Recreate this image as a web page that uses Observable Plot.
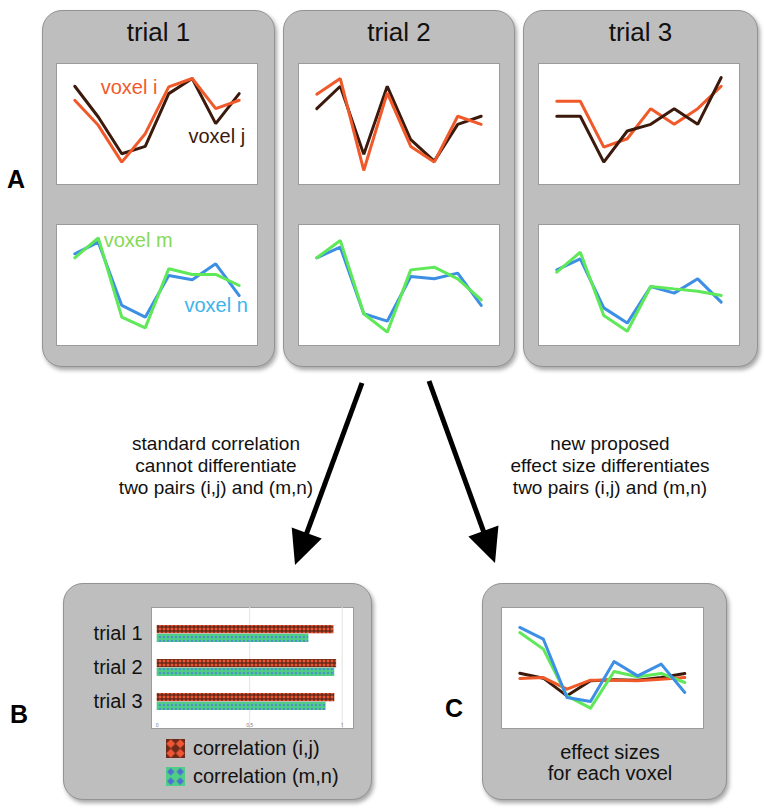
<!DOCTYPE html>
<html>
<head>
<meta charset="utf-8">
<script src="https://cdn.jsdelivr.net/npm/d3@7"></script>
<script src="https://cdn.jsdelivr.net/npm/@observablehq/plot@0.6"></script>
<style>
  html, body { margin: 0; padding: 0; background: #fff; }
  body { font-family: "Liberation Sans", Arial, sans-serif; }
  #fig { position: relative; width: 764px; height: 810px; overflow: hidden; }
  .panel { position: absolute; background: #bebebe; border: 1px solid #939393;
           border-radius: 20px; box-shadow: 2px 3px 4px rgba(0,0,0,0.35); box-sizing: border-box; }
  .abs { position: absolute; }
  .title { position: absolute; font-size: 26px; color: #111; text-align: center; white-space: nowrap; }
  .letter { position: absolute; font-size: 25px; font-weight: bold; color: #000; }
  .note { position: absolute; font-size: 19px; line-height: 22px; color: #111; text-align: center; white-space: nowrap; }
  .legend { position: absolute; font-size: 20px; color: #111; display: flex; align-items: center; gap: 8px; white-space: nowrap; }
</style>
</head>
<body>
<svg width="0" height="0" style="position:absolute">
  <defs>
    <pattern id="pat-ij" patternUnits="userSpaceOnUse" width="4" height="4">
      <rect width="4" height="4" fill="#6b2a18"></rect>
      <polygon points="2,0.2 3.8,2 2,3.8 0.2,2" fill="#ee5636"></polygon>
    </pattern>
    <pattern id="pat-mn" patternUnits="userSpaceOnUse" width="4" height="4">
      <rect width="4" height="4" fill="#4fcf84"></rect>
      <polygon points="2,0.6 3.4,2 2,3.4 0.6,2" fill="#4f86d6"></polygon>
    </pattern>
    <pattern id="pat-ij-big" patternUnits="userSpaceOnUse" width="9.5" height="9.5">
      <rect width="9.5" height="9.5" fill="#6b2a18"></rect>
      <polygon points="4.75,0.3 9.2,4.75 4.75,9.2 0.3,4.75" fill="#ee5636"></polygon>
    </pattern>
    <pattern id="pat-mn-big" patternUnits="userSpaceOnUse" width="9.5" height="9.5">
      <rect width="9.5" height="9.5" fill="#4fcf84"></rect>
      <polygon points="4.75,1 8.5,4.75 4.75,8.5 1,4.75" fill="#4f6fd6"></polygon>
    </pattern>
  </defs>
</svg>
<div id="fig"></div>
<script>
// ---------------- data ----------------
const timepoints = [0, 1, 2, 3, 4, 5, 6, 7];

const trial1_i = [69.6, 48.9, 18.5, 42, 80.7, 87.6, 62.7, 69.6];
const trial1_j = [81.2, 55.8, 25.4, 31.5, 75.1, 87.6, 50.3, 75.1];
const trial1_m = [72.5, 89, 23.4, 14.6, 63.4, 58.7, 58.7, 49.6];
const trial1_n = [75.8, 85.4, 33.1, 23.4, 57.9, 54.3, 67.5, 41.3];

const trial2_i = [74.6, 87.6, 11.6, 75.7, 31.5, 18.5, 56.4, 49.7];
const trial2_j = [62.7, 81.2, 24.9, 81.2, 37, 19.3, 49.7, 56.4];
const trial2_m = [72.5, 86.8, 26.2, 11, 62.5, 64.7, 55.1, 37.7];
const trial2_n = [72.5, 81.3, 26.2, 20.1, 57, 55.1, 59.8, 33.1];

const trial3_i = [68.8, 68.8, 30.9, 37.8, 62.7, 49.7, 62.7, 81.2];
const trial3_j = [56.4, 56.4, 18.5, 44.2, 49.7, 62.7, 49.7, 88.4];
const trial3_m = [60.6, 77.1, 24.8, 11.8, 48.8, 46.8, 44.9, 41.3];
const trial3_n = [62.5, 71.6, 31.1, 18.5, 48.8, 43.3, 55.1, 35.8];

const effect_i = [41.3, 42.1, 32.5, 39.9, 39.9, 39.4, 40.8, 42.1];
const effect_j = [45.7, 41.6, 27, 39.4, 40.2, 39.9, 42.1, 45.5];
const effect_m = [79.3, 65.6, 27, 16.8, 47.1, 42.7, 45.5, 38];
const effect_n = [83.5, 73.8, 25.6, 22.3, 55.4, 43.5, 53.2, 29.8];

const trials = ["trial 1", "trial 2", "trial 3"];
const corr_ij = [0.955, 0.97, 0.96];
const corr_mn = [0.82, 0.96, 0.913];
const corrTicks = [0, 0.5, 1];
const corrTickLabels = ["0", "0,5", "1"];

const labelsTop = [
  {text: "voxel i", x: 1.1, y: 75, color: "#f05a2a"},
  {text: "voxel j", x: 4.84, y: 34.7, color: "#3b1a0c"}
];
const labelsBottom = [
  {text: "voxel m", x: 1.23, y: 81.8, color: "#86d957"},
  {text: "voxel n", x: 4.67, y: 27.3, color: "#3db4ea"}
];

// ---------------- colours ----------------
const C_I = "#f05a2a", C_J = "#3b1a0c", C_M = "#5fe858", C_N = "#3c8fe4";

const fig = document.getElementById("fig");
function add(html, cls, style) {
  const d = document.createElement("div");
  d.className = cls; d.innerHTML = html;
  Object.assign(d.style, style);
  fig.appendChild(d);
  return d;
}
function place(node, left, top) {
  const d = document.createElement("div");
  d.className = "abs";
  d.style.left = left + "px"; d.style.top = top + "px";
  d.appendChild(node);
  fig.appendChild(d);
}

// ---------------- panels ----------------
const topPanels = [
  {left: 42, width: 233, title: "trial 1", chartX: 56},
  {left: 283, width: 232, title: "trial 2", chartX: 298},
  {left: 523, width: 235, title: "trial 3", chartX: 538}
];
topPanels.forEach(p => {
  add("", "panel", {left: p.left + "px", top: "10px", width: p.width + "px", height: "357px"});
  add(p.title, "title", {left: p.left + "px", width: p.width + "px", top: "17px"});
});
add("", "panel", {left: "63px", top: "583px", width: "309px", height: "217px"});
add("", "panel", {left: "482px", top: "583px", width: "245px", height: "217px"});

// ---------------- line charts ----------------
function series(vals, key) { return vals.map((v, k) => ({t: timepoints[k], v, key})); }

function lineChart(a, b, colA, colB, labels, w = 201) {
  const marks = [
    Plot.frame({fill: "white", stroke: "#9b9b9b"}),
    Plot.line(series(a, "a"), {x: "t", y: "v", stroke: colA, strokeWidth: 3, strokeLinejoin: "miter"}),
    Plot.line(series(b, "b"), {x: "t", y: "v", stroke: colB, strokeWidth: 3, strokeLinejoin: "miter"})
  ];
  if (labels) {
    marks.push(Plot.text(labels, {x: "x", y: "y", text: "text", fill: "color", fontSize: 20,
      textAnchor: "start", lineAnchor: "bottom", fontFamily: "Liberation Sans, Arial, sans-serif"}));
  }
  return Plot.plot({
    width: w, height: 121,
    margin: 0,
    x: {domain: [0, 7], range: [18.3, w - 18.3], axis: null},
    y: {domain: [0, 100], range: [121, 0], axis: null},
    color: {type: "identity"},
    style: {background: "transparent", overflow: "visible"},
    marks
  });
}

const topData = [
  [trial1_j, trial1_i, trial1_n, trial1_m],
  [trial2_j, trial2_i, trial2_n, trial2_m],
  [trial3_i, trial3_j, trial3_n, trial3_m]
];
topPanels.forEach((p, k) => {
  const [a, b, c, d] = topData[k];
  const ca = k === 2 ? C_I : C_J, cb = k === 2 ? C_J : C_I;
  place(lineChart(a, b, ca, cb, k === 0 ? labelsTop : null), p.chartX, 63);
  place(lineChart(c, d, C_N, C_M, k === 0 ? labelsBottom : null), p.chartX, 224);
});

// effect sizes chart (C)
(function () {
  const chart = Plot.plot({
    width: 202, height: 121, margin: 0,
    x: {domain: [0, 7], range: [18.3, 183.3], axis: null},
    y: {domain: [0, 100], range: [121, 0], axis: null},
    style: {background: "transparent", overflow: "visible"},
    marks: [
      Plot.frame({fill: "white", stroke: "#9b9b9b"}),
      Plot.line(series(effect_j, "j"), {x: "t", y: "v", stroke: C_J, strokeWidth: 3}),
      Plot.line(series(effect_i, "i"), {x: "t", y: "v", stroke: C_I, strokeWidth: 3}),
      Plot.line(series(effect_m, "m"), {x: "t", y: "v", stroke: C_M, strokeWidth: 3}),
      Plot.line(series(effect_n, "n"), {x: "t", y: "v", stroke: C_N, strokeWidth: 3})
    ]
  });
  place(chart, 501, 607);
})();

// correlation bar chart (B)
(function () {
  const rows = trials.map((t, k) => ({trial: t, ij: corr_ij[k], mn: corr_mn[k]}));
  const chart = Plot.plot({
    width: 283, height: 121,
    marginLeft: 81, marginRight: 0, marginTop: 0, marginBottom: 0,
    x: {domain: [0, 1], range: [86.7, 271.7], axis: null},
    y: {domain: trials, range: [1, 120], padding: 0.5, axis: null},
    style: {background: "transparent", overflow: "visible"},
    marks: [
      Plot.frame({fill: "white", stroke: "#9b9b9b"}),
      Plot.ruleX(corrTicks.slice(1), {stroke: "#e2e2e2", strokeWidth: 1}),
      Plot.barX(rows, {x: "ij", y: "trial", fill: "url(#pat-ij)", insetBottom: 8.7}),
      Plot.barX(rows, {x: "mn", y: "trial", fill: "url(#pat-mn)", insetTop: 8.7}),
      Plot.text(corrTicks, {x: d => d, text: (d, k) => corrTickLabels[k], frameAnchor: "bottom",
        dy: -2, fontSize: 5, fill: "#777"}),
      Plot.axisY({tickSize: 0, tickPadding: 9, fontSize: 20, anchor: "left", fill: "#111", label: null,
        fontFamily: "Liberation Sans, Arial, sans-serif"})
    ]
  });
  place(chart, 70, 607);
})();

// legend (B)
function swatch(pat) {
  return `<svg width="19" height="19"><rect width="19" height="19" fill="url(#${pat})"></rect></svg>`;
}
add(swatch("pat-ij-big") + "<span>correlation (i,j)</span>", "legend", {left: "166px", top: "737px"});
add(swatch("pat-mn-big") + "<span>correlation (m,n)</span>", "legend", {left: "166px", top: "765px"});

// texts
add("effect sizes<br>for each voxel", "note", {left: "510px", width: "200px", top: "742px", fontSize: "20px", lineHeight: "21px"});
add("standard correlation<br>cannot differentiate<br>two pairs (i,j) and (m,n)", "note", {left: "116px", width: "200px", top: "433px"});
add("new proposed<br>effect size differentiates<br>two pairs (i,j) and (m,n)", "note", {left: "510px", width: "200px", top: "433px"});
add("A", "letter", {left: "7px", top: "165px"});
add("B", "letter", {left: "10px", top: "700px"});
add("C", "letter", {left: "445px", top: "694px"});

// arrows
(function () {
  const svg = d3.create("svg").attr("width", 764).attr("height", 810)
    .style("position", "absolute").style("left", 0).style("top", 0).style("pointer-events", "none");
  const arrows = [
    {x1: 362, y1: 383, x2: 295, y2: 565},
    {x1: 429, y1: 381, x2: 495, y2: 563}
  ];
  arrows.forEach(a => {
    const dx = a.x2 - a.x1, dy = a.y2 - a.y1, L = Math.hypot(dx, dy);
    const ux = dx / L, uy = dy / L, head = 34, hw = 16;
    const bx = a.x2 - ux * head, by = a.y2 - uy * head;
    svg.append("line").attr("x1", a.x1).attr("y1", a.y1).attr("x2", bx + ux * 2).attr("y2", by + uy * 2)
      .attr("stroke", "#000").attr("stroke-width", 5);
    svg.append("polygon").attr("points", [
      [a.x2, a.y2], [bx - uy * hw, by + ux * hw], [bx + uy * hw, by - ux * hw]
    ].map(p => p.join(",")).join(" ")).attr("fill", "#000");
  });
  fig.appendChild(svg.node());
})();
</script>
</body>
</html>
